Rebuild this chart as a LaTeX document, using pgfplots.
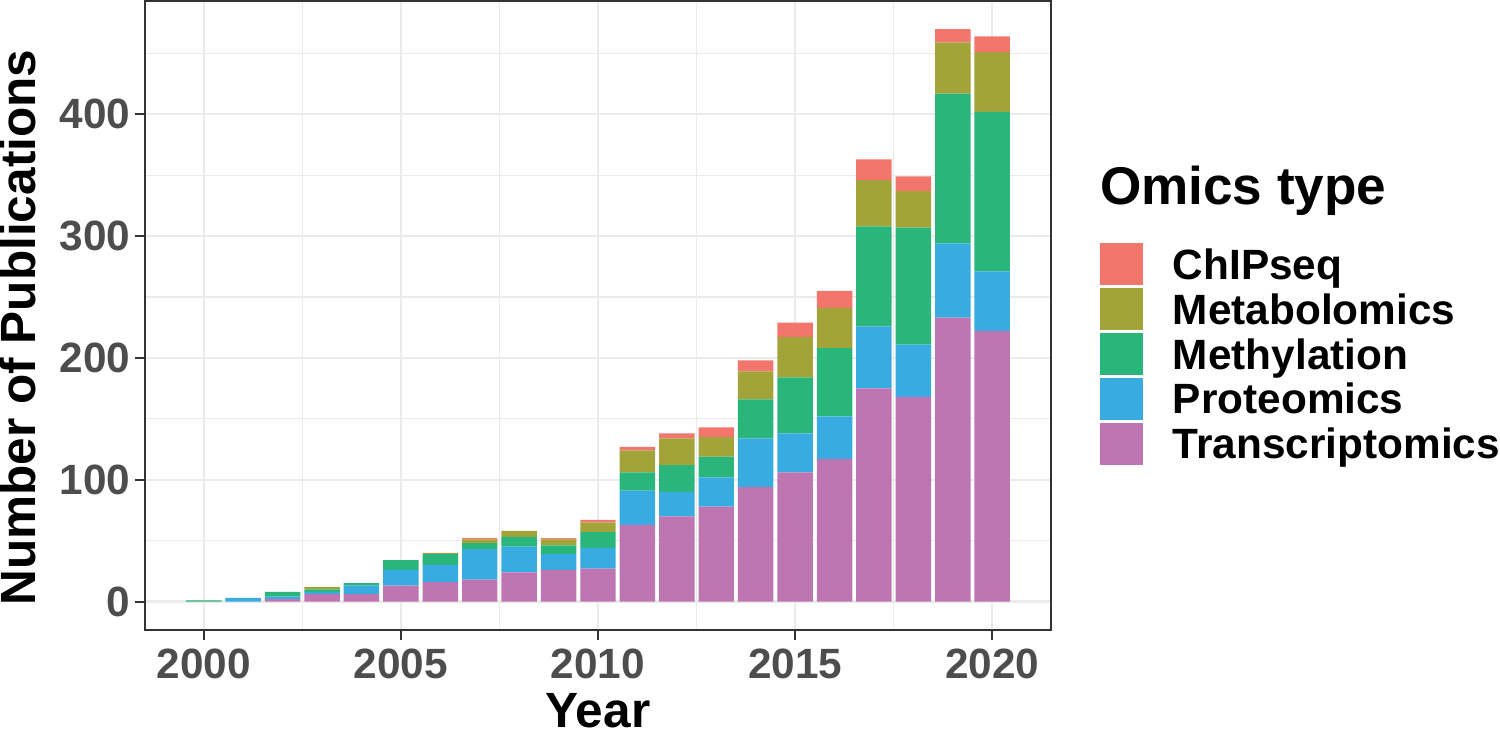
\documentclass[border=0pt]{standalone}
\usepackage{fontspec}
\setmainfont{Liberation Sans}
\usepackage{pgfplots}
\usepackage{pgfplotstable}
\pgfplotsset{compat=1.18}

\definecolor{cChip}{RGB}{243,118,109}
\definecolor{cMeta}{RGB}{162,163,56}
\definecolor{cMeth}{RGB}{42,182,122}
\definecolor{cProt}{RGB}{56,171,224}
\definecolor{cTran}{RGB}{189,118,177}
\definecolor{gridgray}{RGB}{235,235,235}
\definecolor{tickgray}{RGB}{77,77,77}
\definecolor{framegray}{RGB}{51,51,51}

% publications per year and omics type
\pgfplotstableread{
year T   P  Me  Mb  C
2000 0   0  1   0   0
2001 0   3  0   0   0
2002 2   2  4   0   0
2003 6   2  2   2   0
2004 6   7  2   0   0
2005 13  13 8   0   0
2006 16  14 9   1   0
2007 18  25 5   3   1
2008 24  21 8   5   0
2009 26  13 7   5   1
2010 27  17 13  8   2
2011 63  28 15  18  3
2012 70  20 22  22  4
2013 78  24 17  16  8
2014 94  40 32  23  9
2015 106 32 46  33  12
2016 117 35 56  33  14
2017 175 51 82  38  17
2018 168 43 96  30  12
2019 233 61 123 42  11
2020 222 49 131 49  13
}\pubs

\begin{document}
\begin{tikzpicture}
\begin{axis}[
  scale only axis, width=227pt, height=157.5pt,
  ybar stacked, bar width=0.9,
  xmin=1998.5, xmax=2021.5, ymin=-23.5, ymax=493,
  xtick={2000,2005,...,2020}, minor xtick={2002.5,2007.5,2012.5,2017.5},
  ytick={0,100,...,400}, minor ytick={50,150,...,450},
  grid=both,
  major grid style={gridgray, line width=0.55pt},
  minor grid style={gridgray, line width=0.28pt},
  minor tick length=0pt, major tick length=2.5pt,
  tick align=outside, tick pos=left,
  major tick style={framegray, line width=0.5pt},
  axis line style={framegray, line width=0.5pt},
  /pgf/number format/assume math mode=true,
  /pgf/number format/1000 sep={},
  tick label style={font=\bfseries\fontsize{10.6}{12}\selectfont, text=tickgray},
  yticklabel shift=-2.4pt,
  xticklabel style={yshift=1.4pt},
  xlabel={Year}, ylabel={Number of Publications},
  label style={font=\bfseries\fontsize{12.4}{14}\selectfont, inner sep=0pt},
  xlabel style={at={(axis description cs:0.5,-0.154)}, anchor=base, text depth=1.5pt},
  ylabel style={at={(axis description cs:-0.120,0.481)}, anchor=base, rotate=0},
  legend style={at={(1,1)}, anchor=north west, xshift=12pt, yshift=-60pt,
    draw=none, fill=none, inner sep=0pt, row sep=0pt,
    font=\bfseries\fontsize{10.6}{12}\selectfont,
    nodes={inner sep=0pt, text height=9.42pt, text depth=1.83pt},
    /tikz/every odd column/.append style={column sep=7.5pt}},
  legend cell align=left,
  reverse legend,
  legend image code/.code={\fill[#1] (0pt,-5.25pt) rectangle (10.75pt,5.25pt);},
]
\addplot[fill=cTran, draw=none] table[x=year, y=T] {\pubs};
\addlegendentry{Transcriptomics}
\addplot[fill=cProt, draw=none] table[x=year, y=P] {\pubs};
\addlegendentry{Proteomics}
\addplot[fill=cMeth, draw=none] table[x=year, y=Me] {\pubs};
\addlegendentry{Methylation}
\addplot[fill=cMeta, draw=none] table[x=year, y=Mb] {\pubs};
\addlegendentry{Metabolomics}
\addplot[fill=cChip, draw=none] table[x=year, y=C] {\pubs};
\addlegendentry{ChIPseq}
\end{axis}
\node[anchor=base west, inner sep=0pt, font=\bfseries\fontsize{13.3}{15}\selectfont]
  at ([xshift=12pt, yshift=-50.9pt]current axis.north east) {Omics type};
\end{tikzpicture}
\end{document}
